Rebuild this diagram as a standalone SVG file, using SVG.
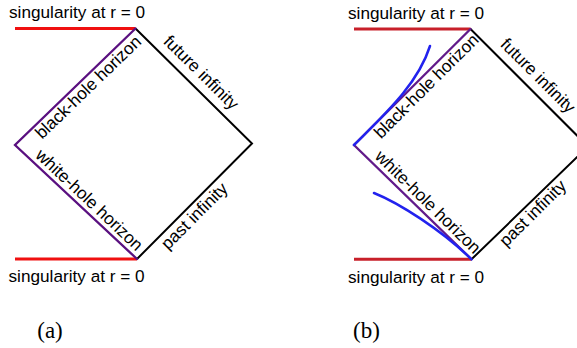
<svg xmlns="http://www.w3.org/2000/svg" width="577" height="348" viewBox="0 0 577 348">
<style>
.lbl{font-family:"Liberation Sans",Arial,sans-serif;font-size:17.2px;fill:#000}
.cap{font-family:"Liberation Serif","Times New Roman",serif;font-size:23px;fill:#000}
.sing{fill:none;stroke-width:3}
.hor{fill:none;stroke-width:2.3;stroke-linecap:round}
.inf{fill:none;stroke:#000;stroke-width:2}
.ray{fill:none;stroke:#2222ee;stroke-width:2.5;stroke-linecap:round}
</style>
<rect width="577" height="348" fill="#fff"/>
<g id="diagram-a">
  <path class="sing" stroke="#f01010" d="M15,28.5H135.5M15,259H137"/>
  <path class="inf" d="M135.5,28.5L252,143.5L137,259"/>
  <path class="hor" stroke="#5a1080" d="M135.5,28.5L15,145L137,259"/>
  <text class="lbl" x="9" y="18">singularity at r = 0</text>
  <text class="lbl" x="8.5" y="282">singularity at r = 0</text>
  <g transform="translate(15,145) rotate(-44)"><text class="lbl" x="23" y="15">black-hole horizon</text></g>
  <g transform="translate(135.5,28.5) rotate(44.6)"><text class="lbl" x="29" y="-9">future infinity</text></g>
  <g transform="translate(15,145) rotate(43.1)"><text class="lbl" x="22" y="-5">white-hole horizon</text></g>
  <g transform="translate(137,259) rotate(-45.1)"><text class="lbl" x="28" y="16">past infinity</text></g>
  <text class="cap" x="50" y="338" text-anchor="middle">(a)</text>
</g>
<g id="diagram-b">
  <path class="sing" stroke="#c8202a" d="M354,29H470.5M354,259.3H471.5"/>
  <path class="inf" d="M470.5,29L588,146.5L471.5,259.3"/>
  <path class="hor" stroke="#621a8a" d="M470.5,29L354,145L471.5,259.3"/>
  <path class="ray" d="M354,145C385,114 418,84 430,46"/>
  <path class="ray" d="M374,193C399,203 441.5,230 471.5,259.3"/>
  <text class="lbl" x="348" y="18.5">singularity at r = 0</text>
  <text class="lbl" x="348" y="282.5">singularity at r = 0</text>
  <g transform="translate(354,145) rotate(-44.9)"><text class="lbl" x="23" y="15">black-hole horizon</text></g>
  <g transform="translate(470.5,29) rotate(45)"><text class="lbl" x="32" y="-9">future infinity</text></g>
  <g transform="translate(354,145) rotate(44.2)"><text class="lbl" x="23" y="-5">white-hole horizon</text></g>
  <g transform="translate(471.5,259.3) rotate(-44.7)"><text class="lbl" x="33" y="16">past infinity</text></g>
  <text class="cap" x="366.5" y="338" text-anchor="middle">(b)</text>
</g>
</svg>
